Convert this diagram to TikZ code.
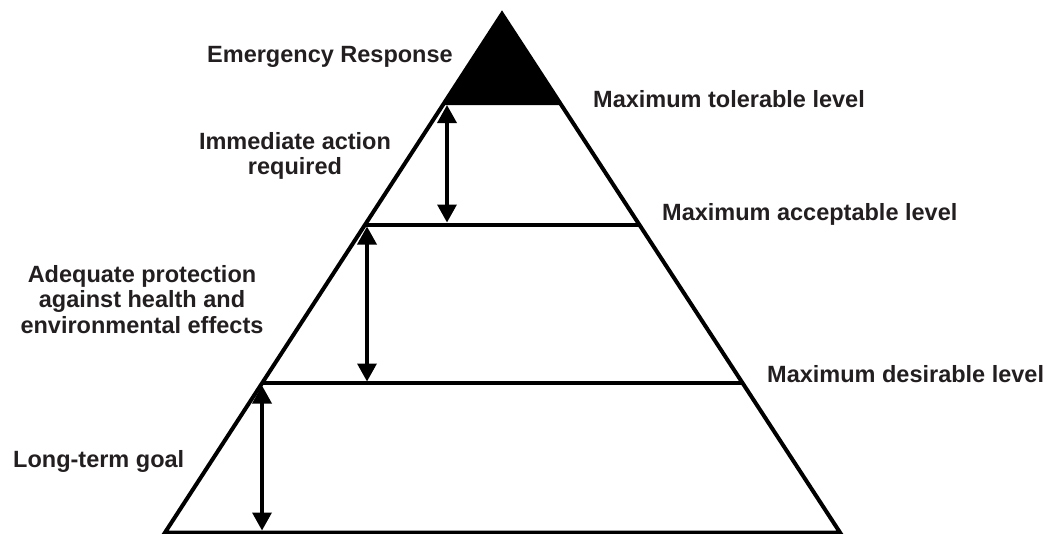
\documentclass[tikz,border=0pt]{standalone}
\usepackage{fontspec}
\setmainfont{Liberation Sans}
\usetikzlibrary{arrows.meta,calc}
\definecolor{txt}{RGB}{35,31,32}
\begin{document}
\begin{tikzpicture}[x=1pt,y=-1pt,
  edge/.style={line width=4pt,line join=miter,draw=black},
  lvl/.style={line width=4pt,draw=black},
  span/.style={line width=3.5pt,{Triangle[length=18pt,width=19pt]}-{Triangle[length=18pt,width=19pt]}},
  lbl/.style={inner sep=0pt,text=txt,font=\bfseries\fontsize{23.5}{25.5}\selectfont},
  mlbl/.style={lbl,align=center,anchor=north}]
\useasboundingbox (0,0) rectangle (1049,533);
\coordinate (A) at (502,14);
\coordinate (BL) at (165,532.5);
\coordinate (BR) at (840,532.5);
% level points on sides
\coordinate (L0) at ($(A)!0.1755!(BL)$);
\coordinate (R0) at ($(A)!0.1755!(BR)$);
\coordinate (L1) at ($(A)!0.406!(BL)$);
\coordinate (R1) at ($(A)!0.406!(BR)$);
\coordinate (L2) at ($(A)!0.7126!(BL)$);
\coordinate (R2) at ($(A)!0.7126!(BR)$);
% black cap
\fill[black] (A) -- (L0) -- (R0) -- cycle;
% outline
\draw[edge] (A) -- (BL) -- (BR) -- cycle;
\draw[lvl] (L1) -- (R1);
\draw[lvl] (L2) -- (R2);
% arrow ends
\coordinate (a1t) at (447,105);
\coordinate (a1b) at (447,222.5);
\coordinate (a2t) at (367,226.5);
\coordinate (a2b) at (367,381.5);
\coordinate (a3t) at (262,385.5);
\coordinate (a3b) at (262,530.5);
\draw[span] (a1t) -- (a1b);
\draw[span] (a2t) -- (a2b);
\draw[span] (a3t) -- (a3b);
% labels
\node[lbl,anchor=base west] (er) at (207,62) {Emergency Response};
\node[mlbl] (iar) at (295,132) {Immediate action\\required};
\node[mlbl] (ap) at (142,265) {Adequate protection\\against health and\\environmental effects};
\node[lbl,anchor=base west] (lt) at (13,467) {Long-term goal};
\node[lbl,anchor=base west] (mt) at (593,107) {Maximum tolerable level};
\node[lbl,anchor=base west] (ma) at (662,220) {Maximum acceptable level};
\node[lbl,anchor=base west] (md) at (767,382) {Maximum desirable level};
\end{tikzpicture}
\end{document}
